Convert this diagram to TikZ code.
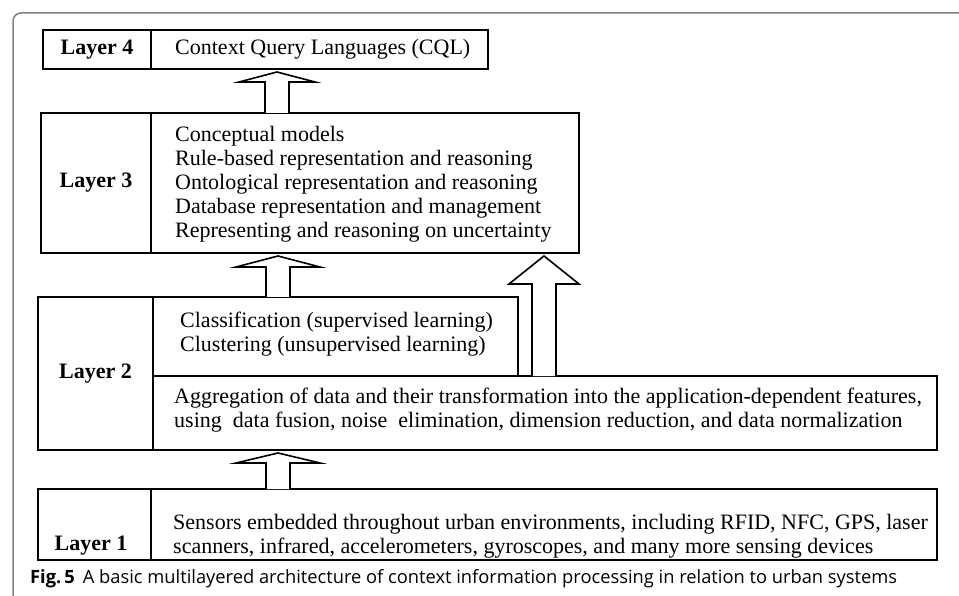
\documentclass[tikz,border=0pt]{standalone}
\usepackage{fontspec}
\setmainfont{Liberation Serif}
\newfontfamily\captionfont{Open Sans}
\usetikzlibrary{calc}

\tikzset{
	layerbox/.style={draw, line width=1.6pt, inner sep=0pt, outer sep=0pt, anchor=north west},
	layername/.style={font=\fontsize{22}{24}\selectfont\bfseries},
	layertext/.style={font=\fontsize{22}{24}\selectfont, align=left, inner sep=0pt, anchor=north west},
	blockarrow/.style={draw, line width=1.6pt, fill=white, line join=miter},
}

%hollow arrow from the top of one box up to the bottom of the next
\newcommand{\layerarrow}[6]{%
	\draw[blockarrow] let \p1=(#2.north), \p2=(#3.south) in
		(#1-#4,\y1) -- (#1-#4,\y2-3pt-#6) -- (#1-#5,\y2-3pt-#6) -- (#1,\y2-3pt)
		-- (#1+#5,\y2-3pt-#6) -- (#1+#4,\y2-3pt-#6) -- (#1+#4,\y1);}

\begin{document}
\begin{tikzpicture}[x=1pt,y=-1pt]
	\useasboundingbox (0,0) rectangle (959,596);
	
	%Frame round the figure
	\draw[black!50, line width=1.5pt, rounded corners=8pt] (13,610) -- (13,13) -- (975,13);
	
	%Layer 4
	\node[layerbox, layername, minimum width=108, minimum height=39] (l4name) at (43,30) {Layer 4};
	\node[layerbox, minimum width=337, minimum height=39] (l4box) at (151,30) {};
	\node[layertext, anchor=base west] (l4text) at (175,55) {Context Query Languages (CQL)};
	
	%Layer 3
	\node[layerbox, layername, minimum width=110, minimum height=140] (l3name) at (41,113) {Layer 3};
	\node[layerbox, minimum width=428, minimum height=140] (l3box) at (151,113) {};
	\node[layertext] (l3text) at (175,126) {Conceptual models\\
		Rule-based representation and reasoning\\
		Ontological representation and reasoning\\
		Database representation and management\\
		Representing and reasoning on uncertainty};
	
	%Layer 2
	\node[layerbox, layername, minimum width=115, minimum height=153] (l2name) at (38,297) {Layer 2};
	\node[layerbox, minimum width=365, minimum height=79] (l2up) at (153,297) {};
	\node[layerbox, minimum width=784, minimum height=74] (l2low) at (153,376) {};
	\node[layertext] (l2uptext) at (180,312) {Classification (supervised learning)\\
		Clustering (unsupervised learning)};
	\node[layertext] (l2lowtext) at (174,388) {Aggregation of data and their transformation into the application-dependent features,\\
		using\ \ data fusion, noise\ \ elimination, dimension reduction, and data normalization};
	
	%Layer 1
	\node[layerbox, minimum width=113, minimum height=71] (l1name) at (38,489) {};
	\node[layername, anchor=base, inner sep=0pt] (l1label) at (91,550) {Layer 1};
	\node[layerbox, minimum width=786, minimum height=71] (l1box) at (151,489) {};
	\node[layertext] (l1text) at (173,514) {Sensors embedded throughout urban environments, including RFID, NFC, GPS, laser\\
		scanners, infrared, accelerometers, gyroscopes, and many more sensing devices};
	
	%Arrows between the layers
	\layerarrow{277}{l3box}{l4box}{12}{38}{10pt}
	\layerarrow{278}{l2up}{l3box}{12}{42}{11pt}
	\layerarrow{278}{l1box}{l2low}{12}{42}{10pt}
	\layerarrow{544}{l2low}{l3box}{12}{35}{28pt}
	
	%Caption
	\node[font=\captionfont\fontsize{18.3}{21}\selectfont, anchor=base west, inner sep=0pt] (caption) at (30,583)
		{\textbf{Fig.\,5}\hspace{8pt}A basic multilayered architecture of context information processing in relation to urban systems};
\end{tikzpicture}
\end{document}
